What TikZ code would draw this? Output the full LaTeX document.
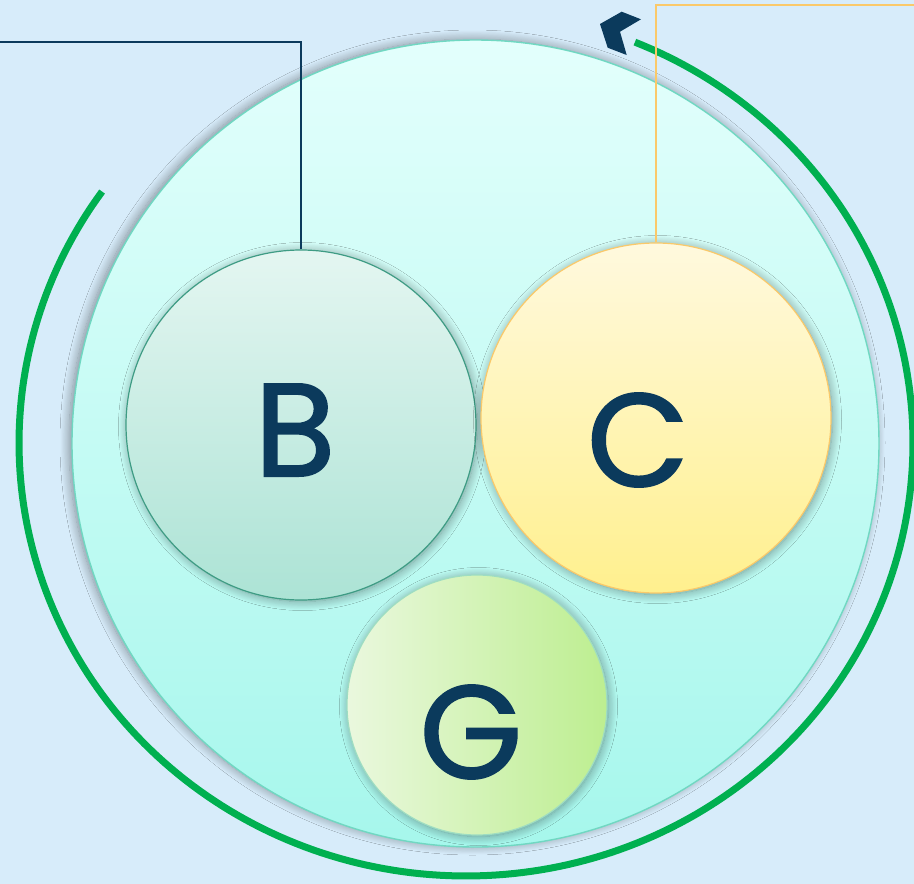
\documentclass[tikz,border=0pt]{standalone}
\usepackage{fontspec}
\newfontfamily\pop{Poppins}[FakeBold=1.5]
\usetikzlibrary{shadows.blur}
\definecolor{bg}{HTML}{D7ECFA}
\definecolor{navy}{HTML}{0B3A5C}
\definecolor{arcgreen}{HTML}{00B050}
\definecolor{bigtop}{HTML}{E3FFFC}
\definecolor{bigbot}{HTML}{A6F7EC}
\definecolor{bigline}{HTML}{70D8C2}
\definecolor{btop}{HTML}{E4F6F1}
\definecolor{bbot}{HTML}{ACE3D5}
\definecolor{bline}{HTML}{3E9C84}
\definecolor{ctop}{HTML}{FFF9DE}
\definecolor{cbot}{HTML}{FFF08E}
\definecolor{cline}{HTML}{FAC96A}
\definecolor{gleft}{HTML}{EAF8DE}
\definecolor{gright}{HTML}{BDEE90}
\definecolor{gline}{HTML}{9EDDC2}
\tikzset{
  disc/.style={circle, inner sep=0pt, line width=1.2pt,
    blur shadow={shadow xshift=1.5pt, shadow yshift=-1.5pt, shadow blur radius=9pt, shadow blur steps=12, shadow opacity=40}},
  bigdisc/.style={circle, inner sep=0pt, line width=1.4pt,
    blur shadow={shadow xshift=-3pt, shadow yshift=1pt, shadow blur radius=9pt, shadow blur steps=12, shadow opacity=40}},
  letter/.style={inner sep=0pt, text=navy, font=\pop\fontsize{132}{132}\selectfont},
  leader/.style={line width=2pt}
}
\begin{document}
\begin{tikzpicture}[x=1pt,y=-1pt]
\fill[bg] (0,0) rectangle (914,884);
\useasboundingbox (0,0) rectangle (914,884);
% big circle
\node[bigdisc, draw=bigline, top color=bigtop, bottom color=bigbot, minimum size=807pt] (big) at (475.5,443.5) {};
% green arc
\draw[arcgreen, line width=7pt] plot[domain=144.5:427.8, samples=240] ({466+447*cos(\x)},{443-433*sin(\x)});
\fill[navy] (600,24)--(621.7,11.7)--(641,19.3)--(620,31.7)--(626.7,55)--(607.7,47.7)--cycle;
% inner circles
\node[disc, draw=bline, top color=btop, bottom color=bbot, minimum size=350pt] (B) at (301,425) {};
\node[disc, draw=cline, top color=ctop, bottom color=cbot, minimum size=350pt] (C) at (656,418) {};
\node[disc, draw=gline, left color=gleft, right color=gright, minimum size=260pt] (G) at (477,705) {};
% letters
\node[letter] (Bl) at (295,430) {B};
\node[letter] (Cl) at (638,440) {C};
\node[letter] (Gl) at (471,732) {G};
% leaders
\coordinate (bl) at (0,42);
\coordinate (cr) at (914,5);
\draw[leader, navy] (B.north) |- (bl);
\draw[leader, cline] (C.north) |- (cr);
\end{tikzpicture}
\end{document}
